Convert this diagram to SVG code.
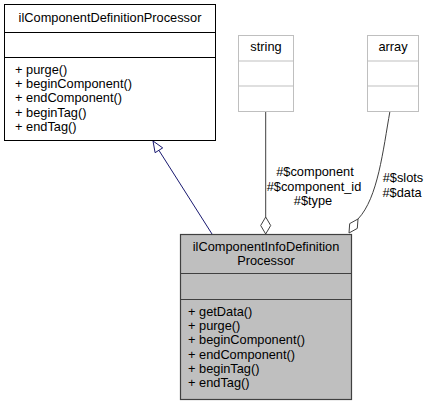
<svg xmlns="http://www.w3.org/2000/svg" width="431" height="404" viewBox="0 0 431 404">
<style>
text{font-family:"Liberation Sans",Arial,sans-serif;font-size:12.8px;fill:#000}
.c{text-anchor:middle}
.box{fill:#fff;stroke:#000;stroke-width:1}
.ext{fill:#fff;stroke:#bfbfbf;stroke-width:1}
.main{fill:#bfbfbf;stroke:#404040;stroke-width:1.2}
.inh{fill:none;stroke:#191970;stroke-width:1}
.use{fill:none;stroke:#404040;stroke-width:1}
</style>
<rect width="431" height="404" fill="#fff"/>
<g id="connectors">
<path class="inh" d="M212,234 L158.9,150.3"/>
<polygon class="inh" fill="#fff" points="153,141 162.7,147.9 155.1,152.7"/>
<path class="use" d="M265.7,111 L265.7,217"/>
<polygon class="use" fill="#fff" points="265.7,234 270.7,225.5 265.7,217 260.7,225.5"/>
<path class="use" d="M390,111 C383,150 378,198 358,219"/>
<polygon class="use" fill="#fff" points="349,233 357.3,228.4 358,219 349.7,223.6"/>
<text class="c" x="315" y="176">#$component</text>
<text class="c" x="314" y="191">#$component_id</text>
<text class="c" x="313" y="205">#$type</text>
<text class="c" x="403" y="182">#$slots</text>
<text class="c" x="402" y="197">#$data</text>
</g>
<g id="ilComponentDefinitionProcessor">
<rect class="box" x="4.5" y="4.5" width="211" height="136"/>
<line x1="4.5" y1="32.5" x2="215.5" y2="32.5" stroke="#000"/>
<line x1="4.5" y1="57.5" x2="215.5" y2="57.5" stroke="#000"/>
<text class="c" x="110" y="22">ilComponentDefinitionProcessor</text>
<text x="15" y="74">+ purge()</text>
<text x="15" y="88">+ beginComponent()</text>
<text x="15" y="102">+ endComponent()</text>
<text x="15" y="117">+ beginTag()</text>
<text x="15" y="131">+ endTag()</text>
</g>
<g id="string">
<rect class="ext" x="238.5" y="35.5" width="55" height="76"/>
<line x1="238.5" y1="61" x2="293.5" y2="61" stroke="#bfbfbf"/>
<line x1="238.5" y1="86" x2="293.5" y2="86" stroke="#bfbfbf"/>
<text class="c" x="266" y="51">string</text>
</g>
<g id="array">
<rect class="ext" x="367.5" y="35.5" width="51" height="76"/>
<line x1="367.5" y1="61" x2="418.5" y2="61" stroke="#bfbfbf"/>
<line x1="367.5" y1="86" x2="418.5" y2="86" stroke="#bfbfbf"/>
<text class="c" x="393" y="51">array</text>
</g>
<g id="ilComponentInfoDefinitionProcessor">
<rect class="main" x="180.5" y="234.5" width="171" height="165"/>
<line x1="180.5" y1="273.5" x2="351.5" y2="273.5" stroke="#404040" stroke-width="1.2"/>
<line x1="180.5" y1="299.5" x2="351.5" y2="299.5" stroke="#404040" stroke-width="1.2"/>
<text class="c" x="266" y="251">ilComponentInfoDefinition</text>
<text class="c" x="266" y="265">Processor</text>
<text x="188" y="316">+ getData()</text>
<text x="188" y="330">+ purge()</text>
<text x="188" y="344">+ beginComponent()</text>
<text x="188" y="359">+ endComponent()</text>
<text x="188" y="373">+ beginTag()</text>
<text x="188" y="387">+ endTag()</text>
</g>
</svg>
